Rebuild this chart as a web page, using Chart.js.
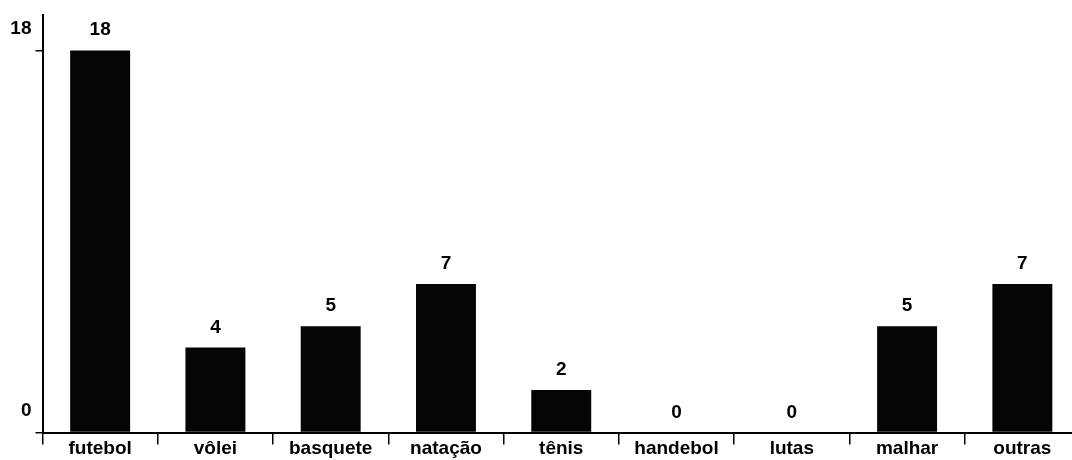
<!DOCTYPE html>
<html>
<head>
<meta charset="utf-8">
<script src="https://cdn.jsdelivr.net/npm/chart.js@4"></script>
<style>
  html, body { margin: 0; padding: 0; background: #fff; overflow: hidden; }
  #wrap { width: 1080px; height: 460px; }
</style>
</head>
<body>
<div id="wrap"><canvas id="chart" width="1080" height="460"></canvas></div>
<script>
const categories = ["futebol", "vôlei", "basquete", "natação", "tênis", "handebol", "lutas", "malhar", "outras"];
const counts = [18, 4, 5, 7, 2, 0, 0, 5, 7];
const yTicks = [0, 18];

const fontFamily = "'Liberation Sans', Arial, sans-serif";

// draws the number over each bar
const valueLabels = {
  id: "valueLabels",
  afterDatasetsDraw(chart) {
    const ctx = chart.ctx;
    const meta = chart.getDatasetMeta(0);
    ctx.save();
    ctx.fillStyle = "#000";
    ctx.font = "bold 19px " + fontFamily;
    ctx.textAlign = "center";
    ctx.textBaseline = "alphabetic";
    meta.data.forEach((bar, i) => {
      ctx.fillText(String(counts[i]), bar.x, bar.y - 15);
    });
    ctx.restore();
  }
};

let chart = new Chart(document.querySelector("#chart"), {
  type: "bar",
  data: {
    labels: categories,
    datasets: [{
      data: counts,
      backgroundColor: "#050505",
      borderWidth: 0,
      barPercentage: 0.52,
      categoryPercentage: 1
    }]
  },
  options: {
    responsive: false,
    animation: false,
    layout: { padding: { top: 15, right: 0, left: 0, bottom: 0 } },
    plugins: {
      legend: { display: false },
      tooltip: { enabled: false }
    },
    scales: {
      x: {
        afterFit: (s) => { s.height = 27.5; },
        grid: {
          offset: true,
          drawOnChartArea: false,
          color: "#000",
          tickLength: 12,
          lineWidth: 1.5
        },
        border: { display: true, color: "#000", width: 2 },
        ticks: {
          color: "#000",
          padding: -7,
          font: { family: fontFamily, size: 19, weight: "bold" }
        }
      },
      y: {
        min: 0,
        max: 19.65,
        afterFit: (s) => { s.width = 42.5; },
        afterBuildTicks: (s) => { s.ticks = yTicks.map((v) => ({ value: v })); },
        grid: {
          drawOnChartArea: false,
          color: "#000",
          tickLength: 7,
          lineWidth: 1.5
        },
        border: { display: true, color: "#000", width: 2 },
        ticks: {
          color: "#000",
          padding: 4,
          labelOffset: -22,
          font: { family: fontFamily, size: 19, weight: "bold" }
        }
      }
    }
  },
  plugins: [valueLabels]
});
</script>
</body>
</html>
